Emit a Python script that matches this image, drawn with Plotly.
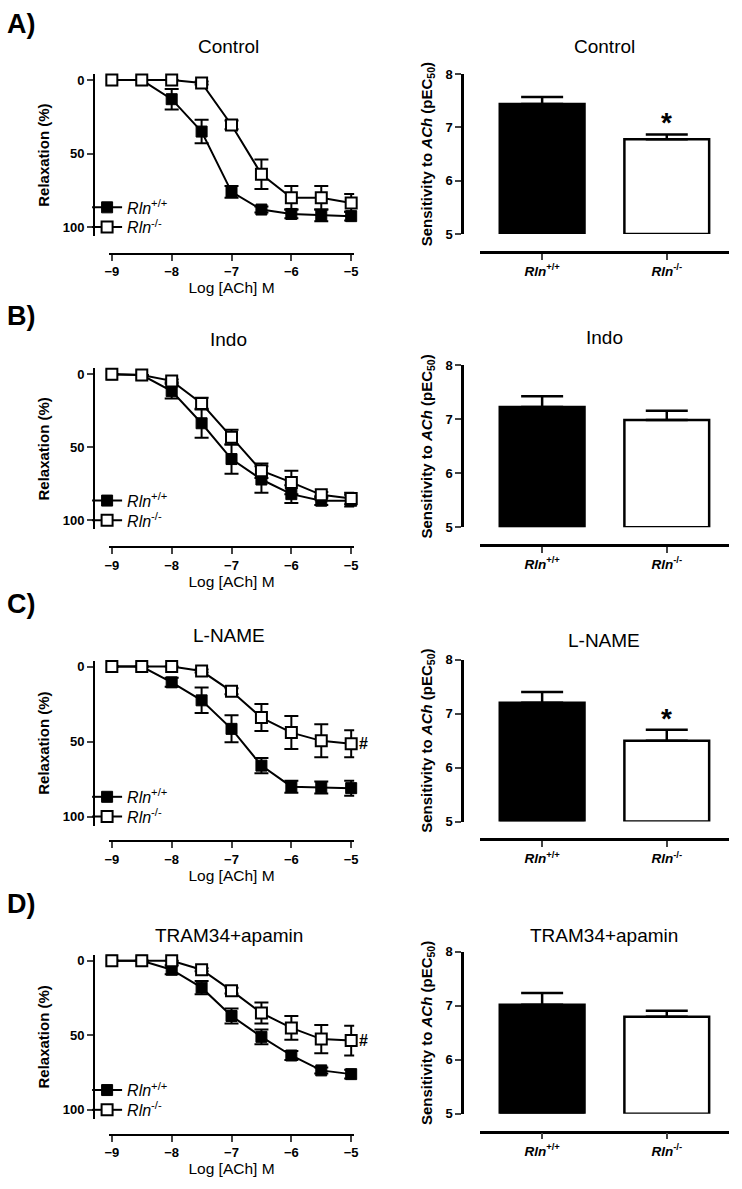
import plotly.graph_objects as go

W, H = 742, 1189

# ---------------- data ----------------
conc = [-9, -8.5, -8, -7.5, -7, -6.5, -6, -5.5, -5]
panel_titles = ["Control", "Indo", "L-NAME", "TRAM34+apamin"]
panel_letters = ["A)", "B)", "C)", "D)"]
group_labels = ["<i>Rln</i><sup>+/+</sup>", "<i>Rln</i><sup>-/-</sup>"]

ctrl_wt = [0, 0, 13, 35, 76, 88, 91, 92, 92.5]
ctrl_wt_err = [0, 0, 7, 8, 4, 2, 3, 4, 3]
ctrl_ko = [0, 0, 0, 2, 30.5, 64, 80, 80, 83.5]
ctrl_ko_err = [0, 0, 0, 1, 3, 10, 8, 8, 6]

indo_wt = [0, 0.5, 11.5, 33.5, 58, 72, 82, 86.5, 86.5]
indo_wt_err = [0, 0, 5, 10, 10, 9, 6, 3, 4]
indo_ko = [0, 0.5, 4.5, 20, 43, 66, 74, 82.5, 85]
indo_ko_err = [0, 0, 1, 4, 5, 5, 8, 2, 4]

lname_wt = [0, 0, 10.5, 22.5, 41.5, 66, 80, 80.5, 81]
lname_wt_err = [0, 0, 3, 8.5, 9, 5, 4, 4, 5]
lname_ko = [0, 0, 0, 3, 16.5, 34, 44, 49.5, 51.5]
lname_ko_err = [0, 0, 0, 1, 2, 9, 11, 11, 9]

tram_wt = [0, 0, 6, 18, 37, 51, 63.5, 73.5, 76]
tram_wt_err = [0, 0, 3, 4.5, 5, 5, 3, 2, 3]
tram_ko = [0, 0, 0, 6, 20, 35, 45, 52.5, 53.5]
tram_ko_err = [0, 0, 0, 1, 2, 7, 8, 9.5, 10]

pec50_ctrl = [7.44, 6.78]
pec50_ctrl_sem = [0.13, 0.09]
pec50_indo = [7.23, 6.99]
pec50_indo_sem = [0.20, 0.17]
pec50_lname = [7.20, 6.50]
pec50_lname_sem = [0.20, 0.20]
pec50_tram = [7.02, 6.80]
pec50_tram_sem = [0.22, 0.11]

star_flags = [[False, True], [False, False], [False, True], [False, False]]
hash_flags = [False, False, True, True]

curves = [
    (ctrl_wt, ctrl_wt_err, ctrl_ko, ctrl_ko_err),
    (indo_wt, indo_wt_err, indo_ko, indo_ko_err),
    (lname_wt, lname_wt_err, lname_ko, lname_ko_err),
    (tram_wt, tram_wt_err, tram_ko, tram_ko_err),
]
bars = [
    (pec50_ctrl, pec50_ctrl_sem),
    (pec50_indo, pec50_indo_sem),
    (pec50_lname, pec50_lname_sem),
    (pec50_tram, pec50_tram_sem),
]

# ---------------- layout geometry (pixels) ----------------
FONT = "Liberation Sans, Arial, Helvetica, sans-serif"
left_rows = [(74, 223, 250), (372, 520, 547), (668, 820, 845), (966, 1117, 1142)]
right_rows = [(68, 230, 248), (363, 527, 545), (661, 825, 843), (957, 1121, 1139)]
letter_y = [17, 313, 605, 908]
title_y_left = [40, 337, 637, 940]
title_y_right = [40, 335, 642, 940]
L_X0, L_X1, L_YAX = 106, 354, 91
R_X0, R_X1, R_YAX = 481, 733, 463
BASE = 5


def px(x):
    return x / W


def py(y):
    return 1 - y / H


fig = go.Figure()
layout = dict(
    width=W, height=H, margin=dict(l=0, r=0, t=0, b=0),
    paper_bgcolor="white", plot_bgcolor="white",
    font=dict(family=FONT, color="black"),
    showlegend=True, annotations=[],
)

for i in range(4):
    xl = "x%d" % (2 * i + 1) if i else "x"
    yl = "y%d" % (2 * i + 1) if i else "y"
    xr = "x%d" % (2 * i + 2)
    yr = "y%d" % (2 * i + 2)
    leg_wt = "legend" if i == 0 else "legend%d" % (2 * i + 1)
    leg_ko = "legend%d" % (2 * i + 2)
    wt, wt_e, ko, ko_e = curves[i]

    fig.add_trace(go.Scatter(
        x=conc, y=wt, xaxis=xl, yaxis=yl, mode="lines+markers", name=group_labels[0],
        legend=leg_wt, cliponaxis=False,
        line=dict(color="black", width=2),
        marker=dict(symbol="square", size=11, color="black", line=dict(color="black", width=1)),
        error_y=dict(type="data", array=wt_e, color="black", thickness=2, width=7),
    ))
    fig.add_trace(go.Scatter(
        x=conc, y=ko, xaxis=xl, yaxis=yl, mode="lines+markers", name=group_labels[1],
        legend=leg_ko, cliponaxis=False,
        line=dict(color="black", width=2),
        marker=dict(symbol="square", size=11, color="white", line=dict(color="black", width=2)),
        error_y=dict(type="data", array=ko_e, color="black", thickness=2, width=7),
    ))

    means, sems = bars[i]
    fig.add_trace(go.Bar(
        x=group_labels, y=[m - BASE for m in means], base=BASE, xaxis=xr, yaxis=yr,
        width=0.68, showlegend=False, cliponaxis=False,
        marker=dict(color=["black", "white"], line=dict(color="black", width=2.5)),
        error_y=dict(type="data", symmetric=False, array=sems, arrayminus=[0, 0],
                     color="black", thickness=2.5, width=21),
    ))

    y0, y100, xline = left_rows[i]
    s = (y100 - y0) / 100.0
    top, bot = y0 - 4 * s, y100 + 6 * s
    kx = "xaxis" if i == 0 else "xaxis%d" % (2 * i + 1)
    ky = "yaxis" if i == 0 else "yaxis%d" % (2 * i + 1)
    layout[kx] = dict(
        domain=[px(L_X0), px(L_X1)], range=[-9.05, -4.95], anchor="free", position=py(xline),
        tickvals=[-9, -8, -7, -6, -5], ticks="outside", ticklen=6, tickwidth=2,
        showline=True, linewidth=2, linecolor="black", showgrid=False, zeroline=False,
        tickfont=dict(size=13, weight="bold"),
        title=dict(text="Log [ACh] M", font=dict(size=15.5), standoff=0),
    )
    layout[ky] = dict(
        domain=[py(bot), py(top)], range=[106, -4], anchor="free", position=px(L_YAX),
        tickvals=[0, 50, 100], ticks="outside", ticklen=6, tickwidth=2,
        showline=True, linewidth=2, linecolor="black", showgrid=False, zeroline=False,
        tickfont=dict(size=13, weight="bold"),
        title=dict(text="Relaxation (%)", font=dict(size=15, weight="bold"), standoff=8),
    )

    r8, r5, rline = right_rows[i]
    layout["xaxis%d" % (2 * i + 2)] = dict(
        domain=[px(R_X0), px(R_X1)], range=[-0.5, 1.5], anchor="free", position=py(rline),
        type="category", ticks="outside", ticklen=6, tickwidth=2,
        showline=True, linewidth=2.5, linecolor="black", showgrid=False, zeroline=False,
        tickfont=dict(size=13.5, weight="bold"),
    )
    layout["yaxis%d" % (2 * i + 2)] = dict(
        domain=[py(r5), py(r8)], range=[5, 8], anchor="free", position=px(R_YAX),
        tickvals=[5, 6, 7, 8], ticks="outside", ticklen=6, tickwidth=2,
        showline=True, linewidth=2.5, linecolor="black", showgrid=False, zeroline=False,
        tickfont=dict(size=13, weight="bold"),
        title=dict(text="Sensitivity to <i>ACh</i> (pEC<sub>50</sub>)",
                   font=dict(size=15, weight="bold"), standoff=8),
    )

    for leg, yy in ((leg_wt, y100 - 20), (leg_ko, y100)):
        layout[leg] = dict(
            x=px(84), xanchor="left", y=py(yy), yanchor="middle",
            bgcolor="rgba(0,0,0,0)", font=dict(size=16), itemwidth=30, tracegroupgap=0,
        )

    anns = layout["annotations"]
    anns.append(dict(text=panel_letters[i], x=px(1), y=py(letter_y[i]), xref="paper", yref="paper",
                     xanchor="left", yanchor="middle", showarrow=False,
                     font=dict(size=27, weight="bold")))
    anns.append(dict(text=panel_titles[i], x=px((L_X0 + L_X1) / 2 - 3), y=py(title_y_left[i]),
                     xref="paper", yref="paper", xanchor="center", yanchor="middle",
                     showarrow=False, font=dict(size=19)))
    anns.append(dict(text=panel_titles[i], x=px((R_X0 + R_X1) / 2), y=py(title_y_right[i]),
                     xref="paper", yref="paper", xanchor="center", yanchor="middle",
                     showarrow=False, font=dict(size=19)))
    for j in range(2):
        if star_flags[i][j]:
            anns.append(dict(text="*", x=group_labels[j], y=means[j] + sems[j], xref=xr, yref=yr,
                             xanchor="center", yanchor="bottom", yshift=-6, showarrow=False,
                             font=dict(size=28, weight="bold")))
    if hash_flags[i]:
        anns.append(dict(text="#", x=conc[-1], y=ko[-1], xref=xl, yref=yl,
                         xanchor="left", yanchor="middle", xshift=6, showarrow=False,
                         font=dict(size=16, weight="bold")))

fig.update_layout(**layout)
fig.write_html(
    "out.html",
    config={"displayModeBar": False},
    post_script="document.body.style.margin='0px';document.body.style.overflow='hidden';",
)
